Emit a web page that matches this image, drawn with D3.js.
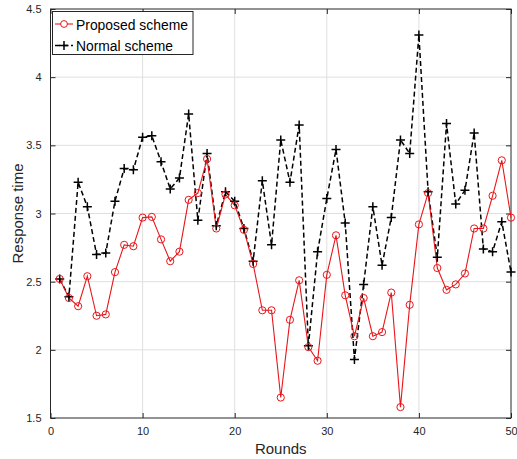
<!DOCTYPE html>
<html>
<head>
<meta charset="utf-8">
<script src="https://cdn.jsdelivr.net/npm/d3@7"></script>
<style>
  body { margin: 0; background: #fff; }
  text { font-family: "Liberation Sans", Arial, sans-serif; }
</style>
</head>
<body>
<svg id="chart" width="517" height="459"></svg>
<script>
"use strict";

// rounds 1..50
const rounds = d3.range(1, 51)
const proposed = [2.52, 2.38, 2.32, 2.54, 2.25, 2.26, 2.57, 2.77, 2.76, 2.97,
  2.975, 2.81, 2.65, 2.72, 3.10, 3.15, 3.40, 2.89, 3.14, 3.06,
  2.88, 2.63, 2.29, 2.29, 1.65, 2.22, 2.51, 2.02, 1.92, 2.55,
  2.84, 2.40, 2.10, 2.38, 2.10, 2.13, 2.42, 1.58, 2.33, 2.92,
  3.15, 2.60, 2.44, 2.48, 2.56, 2.89, 2.89, 3.13, 3.39, 2.97]
const normal = [2.52, 2.39, 3.23, 3.05, 2.70, 2.71, 3.09, 3.33, 3.32, 3.56,
  3.57, 3.38, 3.18, 3.26, 3.73, 2.95, 3.44, 2.91, 3.16, 3.09,
  2.89, 2.65, 3.24, 2.77, 3.54, 3.23, 3.65, 2.03, 2.72, 3.11,
  3.47, 2.93, 1.93, 2.48, 3.05, 2.62, 2.97, 3.54, 3.44, 4.31,
  3.16, 2.68, 3.66, 3.07, 3.17, 3.59, 2.74, 2.72, 2.94, 2.57]
const xTicks = [0, 10, 20, 30, 40, 50]
const yTicks = [1.5, 2, 2.5, 3, 3.5, 4, 4.5]

const svg = d3.select("#chart")
const mLeft = 50.5, mRight = 511, mTop = 9, mBottom = 418

const x = d3.scaleLinear().domain([0, 50]).range([mLeft, mRight])
const y = d3.scaleLinear().domain([1.5, 4.5]).range([mBottom, mTop])

// grid
svg.append("g").selectAll("line").data(xTicks.slice(1, -1)).enter().append("line")
  .attr("x1", d => x(d)).attr("x2", d => x(d)).attr("y1", mTop).attr("y2", mBottom)
  .attr("stroke", "#dfdfdf").attr("stroke-width", 1)
svg.append("g").selectAll("line").data(yTicks.slice(1, -1)).enter().append("line")
  .attr("y1", d => y(d)).attr("y2", d => y(d)).attr("x1", mLeft).attr("x2", mRight)
  .attr("stroke", "#dfdfdf").attr("stroke-width", 1)

// axes (ticks pointing inward)
const tickStyle = g => {
  g.select(".domain").remove()
  g.selectAll(".tick line").attr("stroke", "#262626")
  g.selectAll(".tick text").attr("fill", "#262626").style("font-size", "11px")
}
svg.append("g").attr("transform", `translate(0,${mBottom})`)
  .call(d3.axisBottom(x).tickValues(xTicks).tickSizeInner(-5).tickPadding(9))
  .call(tickStyle)
svg.append("g").attr("transform", `translate(0,${mTop})`)
  .call(d3.axisTop(x).tickValues(xTicks).tickSizeInner(-5).tickFormat(""))
  .call(tickStyle)
svg.append("g").attr("transform", `translate(${mLeft},0)`)
  .call(d3.axisLeft(y).tickValues(yTicks).tickSizeInner(-5).tickPadding(9).tickFormat(d3.format("")))
  .call(tickStyle)
svg.append("g").attr("transform", `translate(${mRight},0)`)
  .call(d3.axisRight(y).tickValues(yTicks).tickSizeInner(-5).tickFormat(""))
  .call(tickStyle)

svg.append("rect").attr("x", mLeft).attr("y", mTop)
  .attr("width", mRight - mLeft).attr("height", mBottom - mTop)
  .attr("fill", "none").attr("stroke", "#262626").attr("stroke-width", 1)

// series
const line = d3.line().x((d, i) => x(rounds[i])).y(d => y(d))

svg.append("path").datum(normal).attr("d", line)
  .attr("fill", "none").attr("stroke", "#000").attr("stroke-width", 1.5)
  .attr("stroke-dasharray", "5,3")
svg.append("path").datum(proposed).attr("d", line)
  .attr("fill", "none").attr("stroke", "#e8161b").attr("stroke-width", 1.1)

svg.append("g").selectAll("path").data(normal).enter().append("path")
  .attr("d", "M-4.5,0H4.5M0,-4.5V4.5")
  .attr("transform", (d, i) => `translate(${x(rounds[i])},${y(d)})`)
  .attr("stroke", "#000").attr("stroke-width", 1.5).attr("fill", "none")
svg.append("g").selectAll("circle").data(proposed).enter().append("circle")
  .attr("cx", (d, i) => x(rounds[i])).attr("cy", d => y(d)).attr("r", 3.6)
  .attr("fill", "none").attr("stroke", "#e8161b").attr("stroke-width", 1)

// legend
const lg = svg.append("g")
lg.append("rect").attr("x", 52.5).attr("y", 11.5).attr("width", 140.5).attr("height", 43)
  .attr("fill", "#fff").attr("stroke", "#262626").attr("stroke-width", 1)
lg.append("line").attr("x1", 55).attr("x2", 73).attr("y1", 24).attr("y2", 24)
  .attr("stroke", "#e8161b").attr("stroke-width", 1.1)
lg.append("circle").attr("cx", 64).attr("cy", 24).attr("r", 3.4)
  .attr("fill", "#fff").attr("stroke", "#e8161b")
lg.append("line").attr("x1", 55).attr("x2", 73).attr("y1", 45.5).attr("y2", 45.5)
  .attr("stroke", "#000").attr("stroke-width", 1.5).attr("stroke-dasharray", "5,3")
lg.append("path").attr("d", "M-4.5,0H4.5M0,-4.5V4.5").attr("transform", "translate(64,45.5)")
  .attr("stroke", "#000").attr("stroke-width", 1.5)
lg.append("text").attr("x", 76).attr("y", 29.5).text("Proposed scheme")
  .attr("textLength", 112).attr("lengthAdjust", "spacingAndGlyphs")
  .style("font-size", "15.5px").attr("fill", "#000")
lg.append("text").attr("x", 76).attr("y", 51).text("Normal scheme")
  .attr("textLength", 97).attr("lengthAdjust", "spacingAndGlyphs")
  .style("font-size", "15.5px").attr("fill", "#000")

// axis titles
svg.append("text").attr("x", (mLeft + mRight) / 2).attr("y", 454).attr("text-anchor", "middle")
  .style("font-size", "15px").attr("fill", "#262626").text("Rounds")
svg.append("text").attr("transform", `translate(23,${(mTop + mBottom) / 2}) rotate(-90)`)
  .attr("text-anchor", "middle").style("font-size", "15px").attr("fill", "#262626")
  .text("Response time")
</script>
</body>
</html>
